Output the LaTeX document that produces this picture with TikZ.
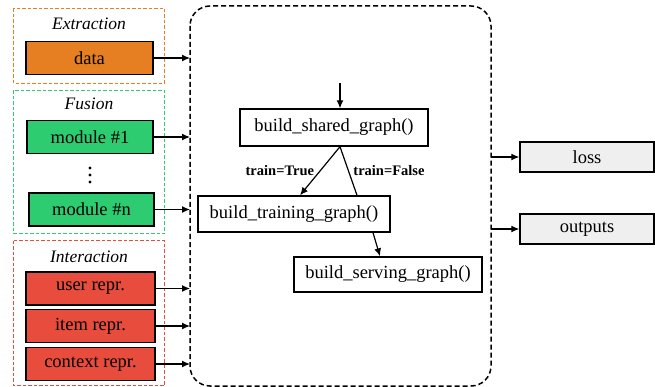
\documentclass[tikz,border=0pt]{standalone}
\usepackage{fontspec}
\setmainfont{Liberation Serif}
\usetikzlibrary{arrows.meta}
\definecolor{extrfill}{HTML}{E67E22}
\definecolor{fusefill}{HTML}{2ECC71}
\definecolor{interfill}{HTML}{E74C3C}
\definecolor{outfill}{HTML}{EFEFEF}
\begin{document}
\begin{tikzpicture}[x=1pt,y=-1pt,>={Latex[length=8pt,width=7pt]},
    block/.style={draw, line width=1.4pt, minimum height=33pt, font=\fontsize{18.5}{20}\selectfont, inner sep=0pt},
    func/.style={draw, line width=1.4pt, minimum height=36pt, font=\fontsize{18.5}{20}\selectfont, inner sep=0pt},
    group/.style={line width=1.2pt, dash pattern=on 3.5pt off 2pt},
    title/.style={font=\fontsize{17.5}{20}\selectfont\itshape},
    cond/.style={font=\fontsize{14.5}{16}\selectfont\bfseries}]
    \useasboundingbox (0,0) rectangle (655,387);
    % left groups
    \draw[group, draw=extrfill] (13.5,8.5) rectangle (164.5,83.5);
    \node[title] (extr) at (89,24) {Extraction};
    \node[block, fill=extrfill, minimum width=127pt] (data) at (89.5,58) {data};
    \draw[group, draw=fusefill] (13.5,90.5) rectangle (164.5,233.5);
    \node[title] (fuse) at (89,104) {Fusion};
    \node[block, fill=fusefill, minimum width=126pt] (mod1) at (90,137) {module \#1};
    \foreach \y in {168,175,182}
        \fill (90,\y) circle (1.6pt);
    \node[block, fill=fusefill, minimum width=125pt] (modn) at (91.5,209.5) {module \#n};
    \draw[group, draw=interfill] (13.5,240.5) rectangle (164.5,385.5);
    \node[title] (inter) at (89,257) {Interaction};
    \node[block, fill=interfill, minimum width=129pt] (user) at (90.5,288.5) {user repr.};
    \node[block, fill=interfill, minimum width=129pt] (item) at (90.5,326) {item repr.};
    \node[block, fill=interfill, minimum width=129pt] (ctx) at (90.5,364) {context repr.};
    % model box
    \draw[line width=1.5pt, dash pattern=on 5pt off 3pt, rounded corners=20pt] (190,6) rectangle (491,386);
    \coordinate (top) at (340,83);
    \node[func, minimum width=188pt, minimum height=37pt] (shared) at (334,127.5) {build\_shared\_graph()};
    \node[func, minimum width=192pt] (train) at (294,214) {build\_training\_graph()};
    \node[func, minimum width=188pt, minimum height=35pt] (serve) at (388,274.5) {build\_serving\_graph()};
    \draw[->, line width=1.2pt] (top) -- (shared.north -| top);
    \draw[->, line width=1.2pt] (shared.south -| top) -- ([xshift=6pt]train.north) node[cond, pos=0.5, left=2pt] {train=True};
    \draw[line width=1.2pt] (shared.south -| top) -- ([xshift=63pt]train.north) node[cond, pos=0.5, right=1pt] {train=False};
    \draw[->, line width=1.2pt] ([xshift=79pt]train.south) -- ([xshift=-8pt]serve.north);
    % inputs
    \foreach \src in {data, mod1, modn, user, item, ctx}
        \draw[->, line width=1.2pt] (\src.east) -- (\src.east -| 190,0);
    % outputs
    \node[block, fill=outfill, minimum width=134pt, minimum height=30pt] (loss) at (587,157) {loss};
    \node[block, fill=outfill, minimum width=134pt, minimum height=30pt] (outs) at (587,229) {outputs};
    \draw[->, line width=1.2pt] (loss.west -| 491,0) -- (loss.west);
    \draw[->, line width=1.2pt] (outs.west -| 491,0) -- (outs.west);
\end{tikzpicture}
\end{document}
